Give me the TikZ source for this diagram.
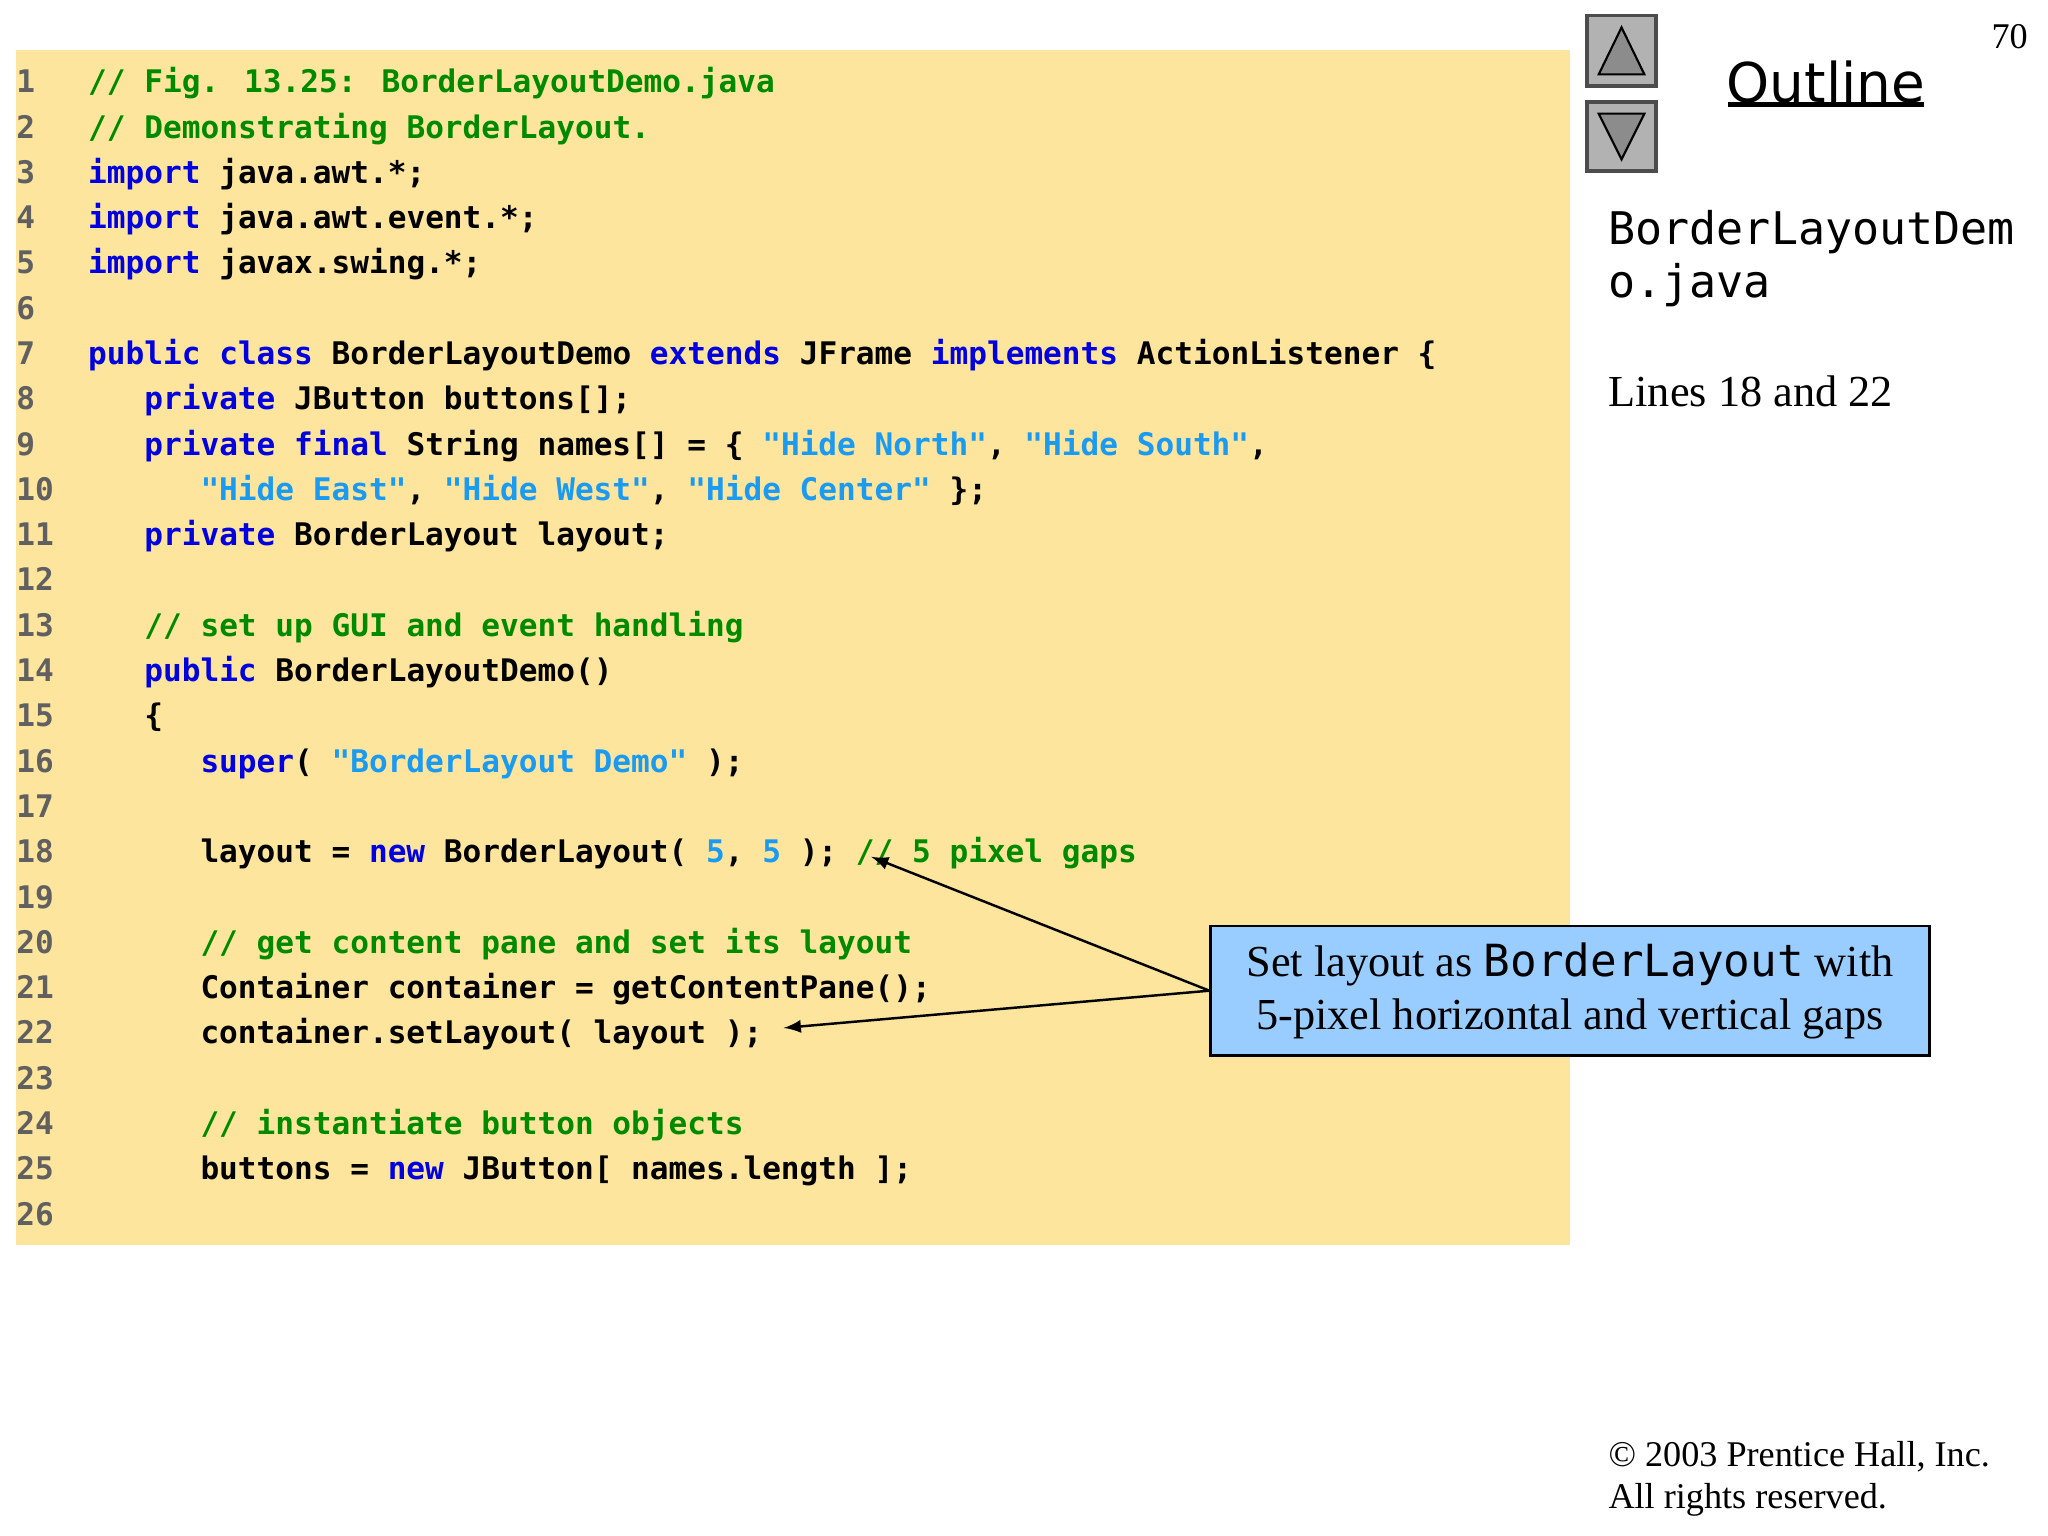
\documentclass[tikz,border=0pt]{standalone}
\usepackage{fontspec}
\setmainfont{Liberation Serif}
\newfontfamily\codef{DejaVu Sans Mono}
\newfontfamily\sansf{DejaVu Sans}
\definecolor{codebg}{HTML}{FDE59D}
\definecolor{kwc}{HTML}{0000E0}
\definecolor{stc}{HTML}{1A9AF0}
\definecolor{cmc}{HTML}{008A00}
\definecolor{numc}{HTML}{606060}
\definecolor{callbg}{HTML}{99CCFF}
\newcommand{\kw}[1]{\textcolor{kwc}{#1}}
\newcommand{\st}[1]{\textcolor{stc}{#1}}
\newcommand{\cm}[1]{\textcolor{cmc}{#1}}
\tikzset{
 codeline/.style={anchor=base west,inner sep=0pt,font=\codef\bfseries\fontsize{8.85}{10}\selectfont},
 numline/.style={anchor=base west,inner sep=0pt,text=numc,font=\codef\bfseries\fontsize{8.85}{10}\selectfont},
 navbtn/.style={draw=black!70,fill=black!30,line width=1pt},
 tri/.style={draw=black,fill=black!45,line width=0.6pt}
}
\begin{document}
\begin{tikzpicture}[x=0.01306cm,y=-0.01306cm]
\useasboundingbox (0,0) rectangle (1568,1176);
\fill[codebg] (12,38) rectangle (1202,953);
\foreach \n in {1,...,26}{
  \node[numline] (n\n) at (12,{71+(\n-1)*34.68}) {\n};
}
\def\cx#1{67+#1*14.33}
\def\ly#1{71+(#1-1)*34.68}
\node[codeline] (l1) at ({\cx0},{\ly1}) {\cm{// Fig. 13.25: BorderLayoutDemo.java}};
\node[codeline] (l2) at ({\cx0},{\ly2}) {\cm{// Demonstrating BorderLayout.}};
\node[codeline] (l3) at ({\cx0},{\ly3}) {\kw{import} java.awt.*;};
\node[codeline] (l4) at ({\cx0},{\ly4}) {\kw{import} java.awt.event.*;};
\node[codeline] (l5) at ({\cx0},{\ly5}) {\kw{import} javax.swing.*;};
\node[codeline] (l7) at ({\cx0},{\ly7}) {\kw{public} \kw{class} BorderLayoutDemo \kw{extends} JFrame \kw{implements} ActionListener \{};
\node[codeline] (l8) at ({\cx3},{\ly8}) {\kw{private} JButton buttons[];};
\node[codeline] (l9) at ({\cx3},{\ly9}) {\kw{private} \kw{final} String names[] = \{ \st{"Hide North"}, \st{"Hide South"},};
\node[codeline] (l10) at ({\cx6},{\ly{10}}) {\st{"Hide East"}, \st{"Hide West"}, \st{"Hide Center"} \};};
\node[codeline] (l11) at ({\cx3},{\ly{11}}) {\kw{private} BorderLayout layout;};
\node[codeline] (l13) at ({\cx3},{\ly{13}}) {\cm{// set up GUI and event handling}};
\node[codeline] (l14) at ({\cx3},{\ly{14}}) {\kw{public} BorderLayoutDemo()};
\node[codeline] (l15) at ({\cx3},{\ly{15}}) {\{};
\node[codeline] (l16) at ({\cx6},{\ly{16}}) {\kw{super}( \st{"BorderLayout Demo"} );};
\node[codeline] (l18) at ({\cx6},{\ly{18}}) {layout = \kw{new} BorderLayout( \st{5}, \st{5} ); \cm{// 5 pixel gaps}};
\node[codeline] (l20) at ({\cx6},{\ly{20}}) {\cm{// get content pane and set its layout}};
\node[codeline] (l21) at ({\cx6},{\ly{21}}) {Container container = getContentPane();};
\node[codeline] (l22) at ({\cx6},{\ly{22}}) {container.setLayout( layout );};
\node[codeline] (l24) at ({\cx6},{\ly{24}}) {\cm{// instantiate button objects}};
\node[codeline] (l25) at ({\cx6},{\ly{25}}) {buttons = \kw{new} JButton[ names.length ];};
% nav buttons
\draw[navbtn] (1215,12) rectangle (1268,66);
\draw[tri] (1224,57) -- (1259,57) -- (1241.5,21) -- cycle;
\draw[navbtn] (1215,78) rectangle (1268,131);
\draw[tri] (1224,87) -- (1259,87) -- (1241.5,122) -- cycle;
\node[inner sep=0pt,font=\sansf\fontsize{15.6}{18}\selectfont] (outline) at (1398,63) {Outline};
\draw[line width=1.2pt] (1323,80) -- (1473,80);
\node[anchor=base east,inner sep=0pt,font=\fontsize{10.3}{12}\selectfont] (page) at (1553,37) {70};
\node[anchor=base west,inner sep=0pt,font=\codef\fontsize{12.8}{15}\selectfont] (fn1) at (1231,187) {BorderLayoutDem};
\node[anchor=base west,inner sep=0pt,font=\codef\fontsize{12.8}{15}\selectfont] (fn2) at (1231,228) {o.java};
\node[anchor=base west,inner sep=0pt,font=\fontsize{12.6}{15}\selectfont] (lines) at (1231,311) {Lines 18 and 22};
% callout
\node[draw=black,fill=callbg,line width=0.8pt,minimum width=550*0.01306cm,minimum height=99*0.01306cm,align=center,inner sep=0pt,font=\fontsize{12.6}{15.2}\selectfont] (call) at (1202,758.5)
 {Set layout as {\codef BorderLayout} with\\5-pixel horizontal and vertical gaps};
\coordinate (t1) at (667,656);
\coordinate (t2) at (600,787);
\draw[-latex,line width=0.7pt] (call.west) -- (t1);
\draw[-latex,line width=0.7pt] (call.west) -- (t2);
\node[anchor=base west,inner sep=0pt,font=\fontsize{10.3}{12}\selectfont] (cp1) at (1231,1123) {\textcopyright{} 2003 Prentice Hall, Inc.};
\node[anchor=base west,inner sep=0pt,font=\fontsize{10.3}{12}\selectfont] (cp2) at (1231,1155) {All rights reserved.};
\end{tikzpicture}
\end{document}
